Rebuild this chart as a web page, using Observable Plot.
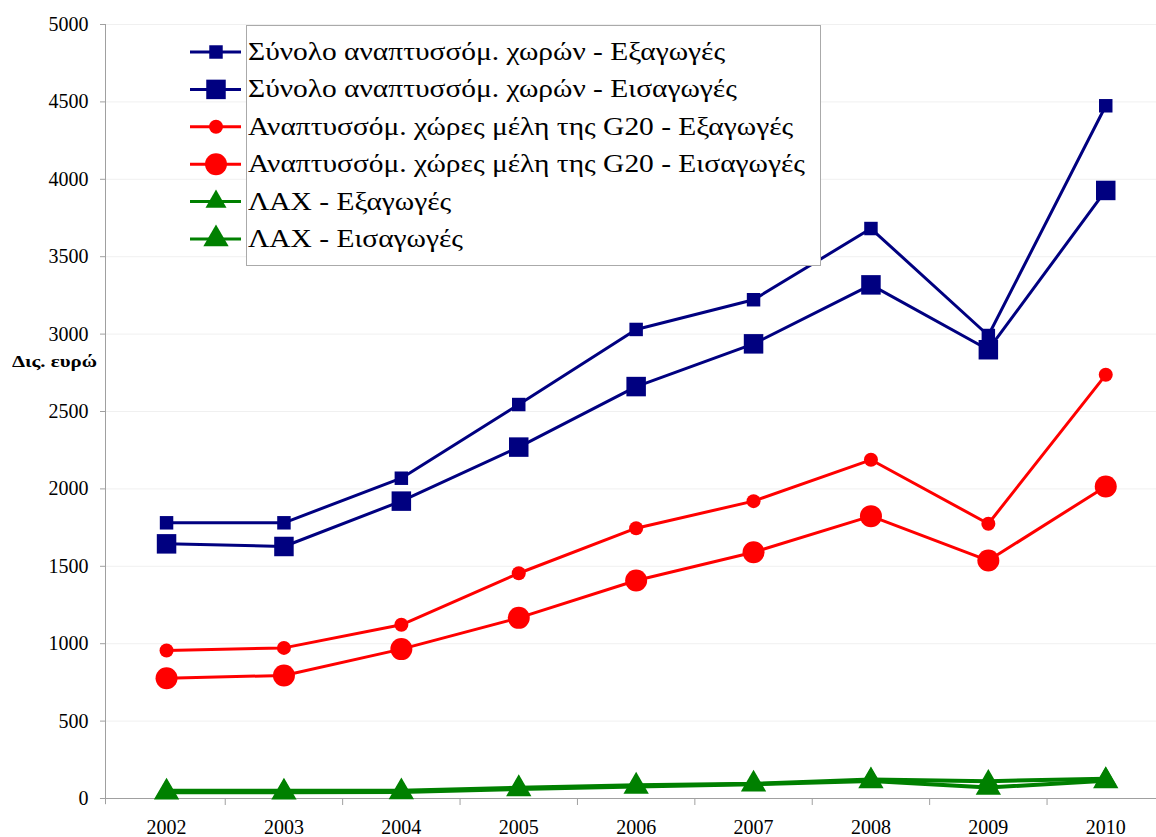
<!DOCTYPE html>
<html>
<head>
<meta charset="utf-8">
<script src="https://cdn.jsdelivr.net/npm/d3@7"></script>
<script src="https://cdn.jsdelivr.net/npm/@observablehq/plot@0.6"></script>
<style>
  body { margin: 0; background: white; }
  #wrap { position: relative; width: 1156px; height: 837px; font-family: "Liberation Serif", "Times New Roman", serif; }
  #ylab { position: absolute; left: 12px; top: 352px; font-weight: bold; font-size: 17px; white-space: nowrap; transform-origin: left center; }
  #legbox { position: absolute; left: 246px; top: 25px; width: 573px; height: 239px; border: 1px solid #aaa; background: white; }
  #legsvg { position: absolute; left: 186px; top: 25px; }
  .legtxt { position: absolute; left: 248px; font-size: 25px; line-height: 1; white-space: nowrap; transform-origin: left center; }
</style>
</head>
<body>
<div id="wrap"></div>
<script>
const years = [2002, 2003, 2004, 2005, 2006, 2007, 2008, 2009, 2010];
const devExports = [1781, 1781, 2069, 2545, 3030, 3222, 3682, 2991, 4475];
const devImports = [1645, 1628, 1921, 2270, 2661, 2937, 3318, 2899, 3928];
const g20Exports = [956, 973, 1122, 1455, 1746, 1921, 2188, 1775, 2737];
const g20Imports = [777, 795, 965, 1167, 1408, 1591, 1824, 1537, 2016];
const ldcExports = [50, 50, 50, 70, 85, 95, 123, 112, 127];
const ldcImports = [40, 40, 42, 62, 78, 92, 113, 71, 114];
const yTicks = [0, 500, 1000, 1500, 2000, 2500, 3000, 3500, 4000, 4500, 5000];
const seriesNames = [
  "Σύνολο αναπτυσσόμ. χωρών - Εξαγωγές",
  "Σύνολο αναπτυσσόμ. χωρών - Εισαγωγές",
  "Αναπτυσσόμ. χώρες μέλη της G20 - Εξαγωγές",
  "Αναπτυσσόμ. χώρες μέλη της G20 - Εισαγωγές",
  "ΛΑΧ - Εξαγωγές",
  "ΛΑΧ - Εισαγωγές"
];
const yLabel = "Δις. ευρώ";

const seriesValues = [devExports, devImports, g20Exports, g20Imports, ldcExports, ldcImports];
const styles = [
  {color: "#000080", symbol: "square", r: 7.6, sw: 3},
  {color: "#000080", symbol: "square", r: 11, sw: 3},
  {color: "#ff0000", symbol: "circle", r: 7, sw: 3},
  {color: "#ff0000", symbol: "circle", r: 11, sw: 3},
  {color: "#008000", symbol: "triangle", r: 7.8, sw: 4},
  {color: "#008000", symbol: "triangle", r: 9.4, sw: 4}
];

const rows = seriesNames.map((name, i) => years.map((yr, j) => ({series: name, year: yr, value: seriesValues[i][j]})));

const x0 = 2001.48;
const step = 117.4;
const x1 = x0 + (1156 - 105) / step;
const halfYears = years.slice(0, -1).map(y => y + 0.5);

const seriesMarks = [];
rows.forEach((data, i) => {
  const s = styles[i];
  seriesMarks.push(Plot.line(data, {x: "year", y: "value", stroke: s.color, strokeWidth: s.sw}));
});
rows.forEach((data, i) => {
  const s = styles[i];
  seriesMarks.push(Plot.dot(data, {x: "year", y: "value", symbol: () => s.symbol, fill: s.color, r: s.r, stroke: "none"}));
});

const chart = Plot.plot({
  width: 1156,
  height: 837,
  marginLeft: 105,
  marginRight: 0,
  marginTop: 24,
  marginBottom: 39,
  x: {type: "linear", domain: [x0, x1]},
  y: {domain: [0, 5000]},
  symbol: {type: "identity"},
  style: {fontFamily: "'Liberation Serif', 'Times New Roman', serif", fontSize: "20px", background: "white", color: "black"},
  marks: [
    Plot.gridY(yTicks, {stroke: "#f0f0f0", strokeOpacity: 1}),
    Plot.ruleX([x0], {y1: -40, y2: 5000, stroke: "#a0a0a0"}),
    Plot.ruleY([0], {x1: x0 - 0.043, x2: x1, stroke: "#a0a0a0"}),
    Plot.axisY(yTicks, {tickSize: 5, tickPadding: 12, stroke: "#a0a0a0", fill: "black", fontSize: 20, label: null, tickFormat: d => String(d)}),
    Plot.axisX(years, {tickSize: 0, tickPadding: 21, fill: "black", fontSize: 20, label: null, tickFormat: d => String(d)}),
    Plot.axisX(halfYears, {tickSize: 7, stroke: "#a0a0a0", tickFormat: () => "", label: null}),
    ...seriesMarks
  ]
});

const wrap = document.getElementById("wrap");
wrap.appendChild(chart);

const yl = document.createElement("div");
yl.id = "ylab";
yl.textContent = yLabel;
wrap.appendChild(yl);
const ylw = yl.getBoundingClientRect().width;
if (ylw > 0) yl.style.transform = `scaleX(${85 / ylw})`;

const box = document.createElement("div");
box.id = "legbox";
wrap.appendChild(box);

const rowY = i => 52 + i * 37.4;
const legSvg = d3.create("svg").attr("id", "legsvg").attr("width", 60).attr("height", 240);
const symMap = {square: d3.symbolSquare, circle: d3.symbolCircle, triangle: d3.symbolTriangle};
styles.forEach((s, i) => {
  const cy = rowY(i) - 25;
  legSvg.append("line").attr("x1", 4).attr("x2", 55).attr("y1", cy).attr("y2", cy)
    .attr("stroke", s.color).attr("stroke-width", 3);
  legSvg.append("path").attr("transform", `translate(30,${cy})`)
    .attr("d", d3.symbol(symMap[s.symbol], Math.PI * s.r * s.r)())
    .attr("fill", s.color);
});
wrap.appendChild(legSvg.node());

const legTexts = seriesNames.map((name, i) => {
  const t = document.createElement("div");
  t.className = "legtxt";
  t.style.top = (rowY(i) - 13) + "px";
  t.textContent = name;
  wrap.appendChild(t);
  return t;
});
const maxW = d3.max(legTexts, t => t.getBoundingClientRect().width);
if (maxW > 0) {
  const sx = 557 / maxW;
  legTexts.forEach(t => { t.style.transform = `scaleX(${sx})`; });
}
</script>
</body>
</html>
